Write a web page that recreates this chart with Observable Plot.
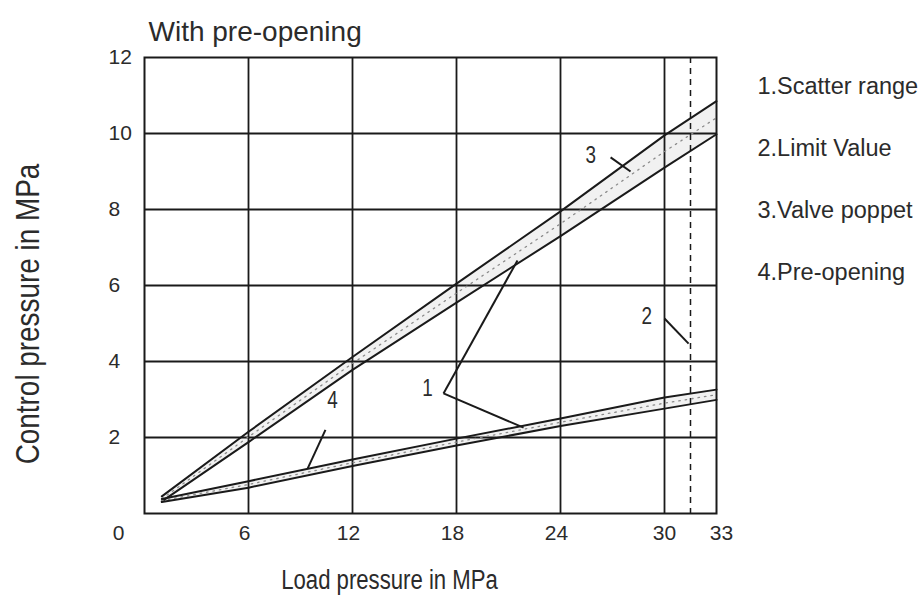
<!DOCTYPE html>
<html>
<head>
<meta charset="utf-8">
<script src="https://cdn.jsdelivr.net/npm/d3@7"></script>
<script src="https://cdn.jsdelivr.net/npm/@observablehq/plot@0.6"></script>
<style>
  html, body { margin: 0; padding: 0; background: #fff; }
  #chart svg { display: block; }
</style>
</head>
<body>
<div id="chart"></div>
<script>
// ---- data ----
const loadPressure = [1, 6, 12, 18, 24, 30, 33];          // MPa (x)
const poppetHigh   = [0.45, 2.15, 4.12, 6.05, 7.95, 9.95, 10.85];
const poppetLow    = [0.32, 1.88, 3.78, 5.55, 7.30, 9.10, 9.98];
const preOpenHigh  = [0.38, 0.85, 1.42, 1.97, 2.50, 3.05, 3.26];
const preOpenLow   = [0.30, 0.68, 1.25, 1.79, 2.30, 2.76, 2.99];
const limitValue   = 31.5;

const gridX = [6, 12, 18, 24, 30];
const gridY = [2, 4, 6, 8, 10];
const xTicksMain = [6, 12, 18, 24];
const yTicks = [2, 4, 6, 8, 10, 12];

const calloutLabels = ["1", "2", "3", "4"];
const calloutX = [16.33, 28.97, 25.74, 10.85];
const calloutY = [3.29, 5.18, 9.42, 2.97];

const leaderX1 = [17.25, 17.25, 30.0, 26.89, 10.44];
const leaderY1 = [3.16, 3.16, 5.13, 9.37, 2.2];
const leaderX2 = [21.52, 21.87, 31.39, 28.04, 9.41];
const leaderY2 = [6.66, 2.26, 4.47, 9.0, 1.18];

const legendLabels = ["1.Scatter range", "2.Limit Value", "3.Valve poppet", "4.Pre-opening"];
const titleText = "With pre-opening";
const xLabel = "Load pressure in MPa";
const yLabel = "Control pressure in MPa";

// ---- tables built from the arrays ----
const poppet = loadPressure.map((x, i) => ({x, hi: poppetHigh[i], lo: poppetLow[i]}));
const preOpen = loadPressure.map((x, i) => ({x, hi: preOpenHigh[i], lo: preOpenLow[i]}));
const callouts = calloutLabels.map((t, i) => ({t, x: calloutX[i], y: calloutY[i]}));
const leaders = leaderX1.map((x1, i) => ({x1, y1: leaderY1[i], x2: leaderX2[i], y2: leaderY2[i]}));

const REG = "'Liberation Sans', Arial, sans-serif";
const INK = "#1a1a1a";
const TXT = "#2b2b2b";

const band = (data) => [
  Plot.areaY(data, {x: "x", y1: "lo", y2: "hi", fill: "#f1f1f1", curve: "linear"}),
];
const bandLines = (data) => [
  Plot.line(data, {x: "x", y: d => (d.hi + d.lo) / 2, stroke: "#8a8a8a", strokeWidth: 1.3, strokeDasharray: "1.5 5"}),
  Plot.line(data, {x: "x", y: "hi", stroke: INK, strokeWidth: 2}),
  Plot.line(data, {x: "x", y: "lo", stroke: INK, strokeWidth: 2})
];

const chart = Plot.plot({
  width: 922,
  height: 597,
  marginLeft: 144,
  marginRight: 206,
  marginTop: 57,
  marginBottom: 84,
  x: {domain: [0, 33]},
  y: {domain: [0, 12]},
  style: {fontFamily: REG, background: "#fff", color: TXT},
  marks: [
    ...band(poppet),
    ...band(preOpen),
    Plot.ruleX(gridX, {stroke: INK, strokeWidth: 1.8}),
    Plot.ruleY(gridY, {stroke: INK, strokeWidth: 1.8}),
    Plot.ruleX([limitValue], {stroke: INK, strokeWidth: 1.5, strokeDasharray: "6 5"}),
    ...bandLines(poppet),
    ...bandLines(preOpen),
    Plot.frame({stroke: INK, strokeWidth: 2}),
    Plot.link(leaders, {x1: "x1", y1: "y1", x2: "x2", y2: "y2", stroke: INK, strokeWidth: 2}),
    Plot.text(callouts, {x: "x", y: "y", text: "t", fontSize: 23, fill: TXT, className: "narrow"}),
    // axes
    Plot.axisY(yTicks, {anchor: "left", tickSize: 0, tickPadding: 0, textAnchor: "start", dx: -36, fontSize: 21, fill: TXT, label: null}),
    Plot.axisX(xTicksMain, {anchor: "bottom", tickSize: 0, tickPadding: 0, dx: -4, dy: 12, fontSize: 21, fill: TXT, label: null}),
    Plot.axisX([30], {anchor: "bottom", tickSize: 0, tickPadding: 0, dx: 0, dy: 12, fontSize: 21, fill: TXT, label: null}),
    Plot.axisX([33], {anchor: "bottom", tickSize: 0, tickPadding: 0, dx: 5, dy: 12, fontSize: 21, fill: TXT, label: null}),
    Plot.axisX([0], {anchor: "bottom", tickSize: 0, tickPadding: 0, dx: -26, dy: 12, fontSize: 21, fill: TXT, label: null}),
    // titles
    Plot.text([titleText], {frameAnchor: "top-left", textAnchor: "start", lineAnchor: "bottom", dx: 4, dy: -17, fontSize: 28, fill: TXT}),
    Plot.text([xLabel], {frameAnchor: "bottom", textAnchor: "middle", lineAnchor: "bottom", dx: -41, dy: 75, fontSize: 27, fill: TXT, className: "narrow"}),
    Plot.text([yLabel], {frameAnchor: "left", textAnchor: "middle", rotate: -90, lineAnchor: "middle", dx: -116, dy: 28.5, fontSize: 34, fill: TXT, className: "narrow"}),
    // numbered key
    ...legendLabels.map((t, i) => Plot.text([t], {frameAnchor: "top-right", textAnchor: "start", lineAnchor: "bottom", dx: 41, dy: 36 + i * 62, fontSize: 23.5, fill: TXT}))
  ]
});
document.getElementById("chart").append(chart);

// Emulate the condensed face of the reference (no narrow font installed)
const narrowSet = new Set([xLabel, yLabel, ...calloutLabels]);
chart.querySelectorAll("g.narrow text, text.narrow").forEach(el => {
  if (!narrowSet.has(el.textContent)) return;
  const len = el.getComputedTextLength();
  el.setAttribute("textLength", (len * 0.82).toFixed(1));
  el.setAttribute("lengthAdjust", "spacingAndGlyphs");
});
</script>
</body>
</html>
